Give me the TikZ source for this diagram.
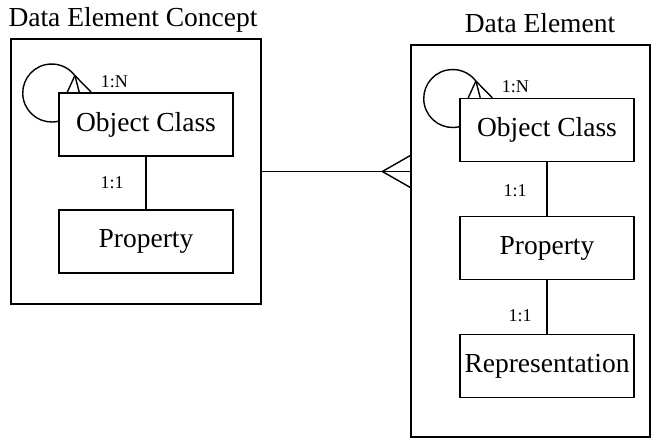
\documentclass[tikz,border=0pt]{standalone}
\usepackage{fontspec}
\setmainfont{Liberation Serif}
\usetikzlibrary{calc}
\begin{document}
\begin{tikzpicture}[x=1pt,y=-1pt,
  line width=1.4pt,
  frame/.style={draw, rectangle, inner sep=0pt, line width=1.3pt},
  entity/.style={draw, rectangle, minimum width=174pt, minimum height=63pt, inner sep=0pt, font=\fontsize{27.5}{30}\selectfont, line width=1.5pt},
  title/.style={font=\fontsize{27.5}{30}\selectfont, anchor=base, inner sep=0pt},
  card/.style={font=\fontsize{18}{20}\selectfont, inner sep=0pt},
]
\useasboundingbox (0,0) rectangle (651,440);
% containers
\node[frame, minimum width=250pt, minimum height=265pt] (dec) at (136,171.5) {};
\node[frame, minimum width=239pt, minimum height=392pt] (de) at (530.5,241) {};
\node[title] (t1) at (133,26) {Data Element Concept};
\node[title] (t2) at (540,32) {Data Element};
% entities
\node[entity] (oc1) at (146,124.5) {Object Class};
\node[entity] (pr1) at (146,241.5) {Property};
\node[entity] (oc2) at (547,130) {Object Class};
\node[entity] (pr2) at (547,248) {Property};
\node[entity] (rp2) at (547,366) {Representation};
% connectors
\draw (oc1) -- (pr1);
\draw (oc2) -- (pr2);
\draw (pr2) -- (rp2);
\node[card] (c1) at (112,183) {1:1};
\node[card] (c2) at (515,191) {1:1};
\node[card] (c3) at (520,316) {1:1};
% crow's foot between containers
\coordinate (cfend) at (dec.east -| de.west);
\draw (dec.east) -- (cfend);
\coordinate (apex) at ($(cfend)+(-28,0)$);
\draw (apex) -- ($(cfend)+(0,-16)$);
\draw (apex) -- ($(cfend)+(0,16)$);
% self loops
\foreach \n in {oc1,oc2}{
  \draw ($(\n.north west)+(0,29)$) arc[start angle=283, end angle=37, radius=29pt] coordinate (a-\n) -- ($(\n.north west)+(33,0)$);
  \draw (a-\n) -- ($(\n.north west)+(9,0)$);
  \draw (a-\n) -- ($(\n.north west)+(21,0)$);
  \node[card] (n-\n) at ($(\n.north west)+(56,-11)$) {1:N};
}
\end{tikzpicture}
\end{document}
